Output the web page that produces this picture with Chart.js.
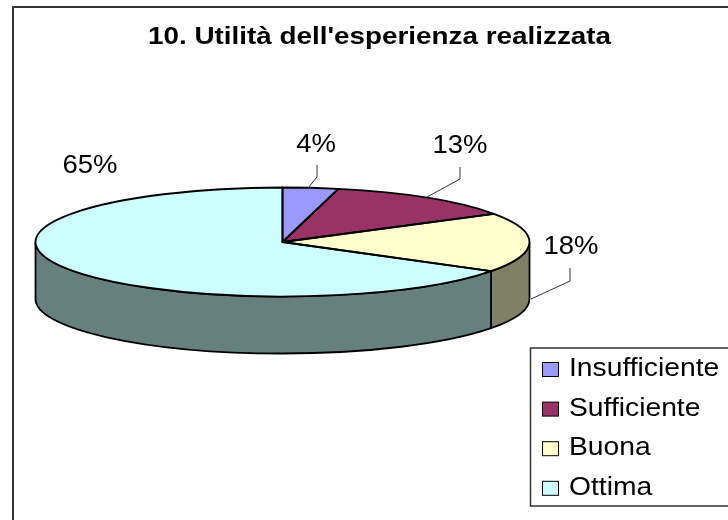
<!DOCTYPE html>
<html>
<head>
<meta charset="utf-8">
<style>
  html, body { margin: 0; padding: 0; background: #fff; }
  #wrap { position: relative; width: 728px; height: 520px; }
</style>
</head>
<body>
<div id="wrap"><canvas id="chart" width="728" height="520"></canvas></div>
<script src="https://cdn.jsdelivr.net/npm/chart.js@4"></script>
<script>
const TITLE = "10. Utilità dell'esperienza realizzata";
const CATEGORIES = ["Insufficiente", "Sufficiente", "Buona", "Ottima"];
const VALUES = [3.6, 12.6, 17.5, 65.4];
const COLORS = ["#9999ff", "#993366", "#ffffcc", "#ccffff"];
const WALL_COLORS = ["#4d4d80", "#4d1a33", "#808066", "#668080"];

const RX = 247;
const RY = 54.5;
const DEPTH = 57;
const FONT = "'Liberation Sans', Arial, sans-serif";

// where each percentage sits, and its leader line
const LABEL_POS = [
  { x: 316, y: 152, line: [[308, 188], [317, 177], [317, 165]] },
  { x: 460, y: 153, line: [[427, 197], [460, 179], [460, 167]] },
  { x: 571, y: 254, line: [[531, 299], [570, 281], [570, 268]] },
  { x: 90, y: 173, line: null },
];

function slicePath(ctx, cx, cy, arc) {
  ctx.beginPath();
  ctx.moveTo(cx, cy);
  ctx.ellipse(cx, cy, RX, RY, 0, arc.startAngle, arc.endAngle);
  ctx.closePath();
}

function drawWalls(chart) {
  const ctx = chart.ctx;
  const arcs = chart.getDatasetMeta(0).data;
  arcs.forEach((arc, i) => {
    // only the front half of the disc shows a wall
    const start = Math.max(arc.startAngle, 0);
    const end = Math.min(arc.endAngle, Math.PI);
    if (end <= start) return;
    ctx.beginPath();
    ctx.ellipse(arc.x, arc.y, RX, RY, 0, start, end);
    ctx.ellipse(arc.x, arc.y + DEPTH, RX, RY, 0, end, start, true);
    ctx.closePath();
    ctx.fillStyle = WALL_COLORS[i];
    ctx.fill();
    ctx.strokeStyle = "#000";
    ctx.lineWidth = 1.8;
    ctx.stroke();
  });
}

// the original's text is stretched sideways, so stretch is a horizontal scale
function drawText(ctx, text, x, y, font, align, stretch) {
  ctx.save();
  ctx.translate(x, y);
  ctx.scale(stretch, 1);
  ctx.font = font;
  ctx.textAlign = align;
  ctx.textBaseline = "alphabetic";
  ctx.fillStyle = "#000";
  ctx.fillText(text, 0, 0);
  ctx.restore();
}

const pie3d = {
  id: "pie3d",
  beforeDraw(chart) {
    const ctx = chart.ctx;
    ctx.save();
    ctx.fillStyle = "#fff";
    ctx.fillRect(0, 0, chart.width, chart.height);
    ctx.strokeStyle = "#333";
    ctx.lineWidth = 2;
    ctx.beginPath();
    ctx.moveTo(13, 520);
    ctx.lineTo(13, 7);
    ctx.lineTo(728, 7);
    ctx.stroke();
    ctx.restore();
  },
  beforeDatasetsDraw(chart) {
    const ctx = chart.ctx;
    const arc = chart.getDatasetMeta(0).data[0];
    ctx.save();
    drawWalls(chart);
    ctx.restore();
    // squash the library's round pie into the disc's ellipse
    ctx.save();
    ctx.translate(arc.x, arc.y);
    ctx.scale(1, RY / RX);
    ctx.translate(-arc.x, -arc.y);
  },
  afterDatasetsDraw(chart) {
    const ctx = chart.ctx;
    ctx.restore();
    ctx.save();
    ctx.strokeStyle = "#000";
    ctx.lineWidth = 1.8;
    ctx.lineJoin = "round";
    chart.getDatasetMeta(0).data.forEach((arc) => {
      slicePath(ctx, arc.x, arc.y, arc);
      ctx.stroke();
    });
    ctx.restore();
  },
  afterDraw(chart) {
    const ctx = chart.ctx;
    ctx.save();
    drawText(ctx, TITLE, 148, 44, `bold 24px ${FONT}`, "left", 1.16);

    VALUES.forEach((value, i) => {
      const pos = LABEL_POS[i];
      drawText(ctx, `${value.toFixed(0)}%`, pos.x, pos.y, `25px ${FONT}`, "center", 1.1);
      if (!pos.line) return;
      ctx.strokeStyle = "#333";
      ctx.lineWidth = 1;
      ctx.beginPath();
      pos.line.forEach((p, j) => (j ? ctx.lineTo(p[0], p[1]) : ctx.moveTo(p[0], p[1])));
      ctx.stroke();
    });

    // legend box runs off the right edge like the original
    ctx.fillStyle = "#fff";
    ctx.fillRect(530, 348, 198, 158);
    ctx.strokeStyle = "#333";
    ctx.lineWidth = 1.5;
    ctx.beginPath();
    ctx.moveTo(728, 348);
    ctx.lineTo(530.5, 348);
    ctx.lineTo(530.5, 506);
    ctx.lineTo(728, 506);
    ctx.stroke();
    CATEGORIES.forEach((name, i) => {
      const top = 362.5 + i * 39.6;
      ctx.fillStyle = COLORS[i];
      ctx.fillRect(542.5, top, 16, 14);
      ctx.strokeStyle = "#000";
      ctx.lineWidth = 1;
      ctx.strokeRect(542.5, top, 16, 14);
      drawText(ctx, name, 569, top + 13.5, `25px ${FONT}`, "left", 1.13);
    });
    ctx.restore();
  },
};

new Chart(document.getElementById("chart"), {
  type: "pie",
  data: {
    labels: CATEGORIES,
    datasets: [{
      data: VALUES,
      backgroundColor: COLORS,
      borderWidth: 0,
      radius: RX,
    }],
  },
  options: {
    responsive: false,
    animation: false,
    events: [],
    // centres the pie's box on (282.5, 242)
    layout: { padding: { left: 0, right: 163, top: 0, bottom: 36 } },
    plugins: {
      legend: { display: false },
      title: { display: false },
      tooltip: { enabled: false },
    },
  },
  plugins: [pie3d],
});
</script>
</body>
</html>
